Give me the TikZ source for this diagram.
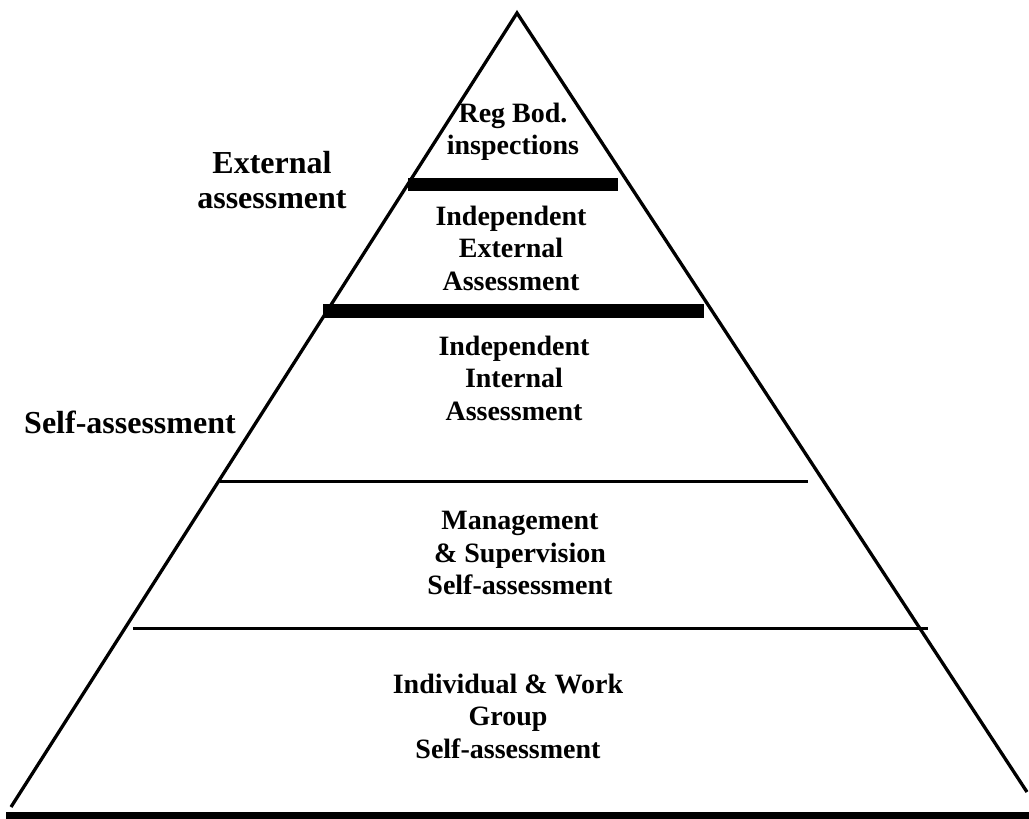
\documentclass[tikz,border=0pt]{standalone}
\usepackage{fontspec}
\setmainfont{Liberation Serif}
\tikzstyle{level}=[align=center,font=\fontsize{28}{32.5}\selectfont\bfseries,inner sep=0pt]
\tikzstyle{side}=[align=center,font=\fontsize{32}{35}\selectfont\bfseries,inner sep=0pt]
\tikzstyle{divider} = [draw,line width=3pt]
\tikzstyle{bar} = [fill=black]

\begin{document}
\begin{tikzpicture}[x=1pt,y=-1pt]

    \useasboundingbox (0,0) rectangle (1029,819);

    % pyramid outline
    \coordinate (top) at (517,13);
    \coordinate (left) at (11,807);
    \coordinate (right) at (1027,792);
    \draw[line width=3.3pt] (left) -- (top) -- (right);

    % bars and dividers
    \fill[bar] (408,178) rectangle (618,191);
    \fill[bar] (323,304) rectangle (704,318);
    \fill[bar] (6,812) rectangle (1029,819);
    \path[divider] (220,481) -- (808,481);
    \path[divider] (133,628) -- (928,628);

    % levels
    \node[level] (reg) at (513,132) {Reg Bod.\\inspections};
    \node[level] (indext) at (511,248) {Independent\\External\\Assessment};
    \node[level] (indint) at (514,378) {Independent\\Internal\\Assessment};
    \node[level] (mgmt) at (520,553) {Management\\\& Supervision\\Self-assessment};
    \node[level] (indiv) at (508,716) {Individual \& Work\\Group\\Self-assessment};

    % side labels
    \node[side] (ext) at (272,180) {External\\assessment};
    \node[side] (self) at (130,422) {Self-assessment};

\end{tikzpicture}
\end{document}
